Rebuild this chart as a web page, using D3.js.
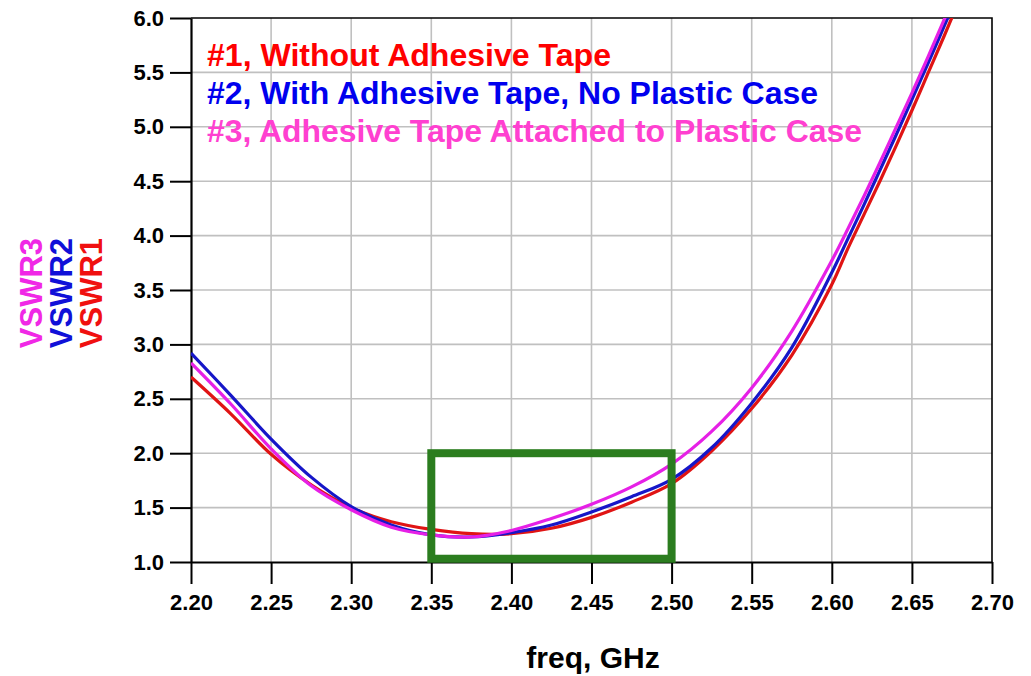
<!DOCTYPE html>
<html>
<head>
<meta charset="utf-8">
<script src="https://cdn.jsdelivr.net/npm/d3@7"></script>
<style>
  body { margin: 0; background: #fff; }
  text { font-family: "Liberation Sans", Arial, sans-serif; font-weight: bold; }
</style>
</head>
<body>
<div id="chart"></div>
<script>
const freqs = [2.200, 2.225, 2.250, 2.275, 2.300, 2.325, 2.350, 2.375, 2.400, 2.425, 2.450, 2.475,
               2.500, 2.525, 2.550, 2.575, 2.600, 2.610, 2.620, 2.630, 2.640, 2.650, 2.660, 2.670, 2.680];
const vswr1 = [2.70, 2.36, 1.99, 1.71, 1.50, 1.37, 1.30, 1.26, 1.26, 1.31, 1.41, 1.55,
               1.72, 2.02, 2.41, 2.90, 3.55, 3.88, 4.19, 4.50, 4.82, 5.15, 5.49, 5.83, 6.18];
const vswr2 = [2.92, 2.53, 2.13, 1.78, 1.51, 1.34, 1.25, 1.23, 1.27, 1.34, 1.46, 1.60,
               1.76, 2.05, 2.46, 2.97, 3.66, 3.97, 4.28, 4.60, 4.92, 5.25, 5.58, 5.92, 6.26];
const vswr3 = [2.83, 2.45, 2.04, 1.70, 1.48, 1.32, 1.25, 1.23, 1.29, 1.40, 1.53, 1.69,
               1.90, 2.20, 2.60, 3.12, 3.77, 4.06, 4.36, 4.67, 4.99, 5.31, 5.64, 5.98, 6.32];
const xTicks = [2.20, 2.25, 2.30, 2.35, 2.40, 2.45, 2.50, 2.55, 2.60, 2.65, 2.70];
const yTicks = [1.0, 1.5, 2.0, 2.5, 3.0, 3.5, 4.0, 4.5, 5.0, 5.5, 6.0];
const legendLabels = ["#1, Without Adhesive Tape", "#2, With Adhesive Tape, No Plastic Case", "#3, Adhesive Tape Attached to Plastic Case"];
const yLabels = ["VSWR3", "VSWR2", "VSWR1"];
const bandBox = [2.35, 2.50, 1.03, 2.0]; // highlighted band: f0, f1, v0, v1

const width = 1031, height = 676;
const pLeft = 191, pRight = 992, pTop = 18, pBottom = 562;

const svg = d3.select("#chart").append("svg")
  .attr("width", width)
  .attr("height", height);

const x = d3.scaleLinear().domain([2.2, 2.7]).range([pLeft, pRight]);
const y = d3.scaleLinear().domain([1, 6]).range([pBottom, pTop]);

// grid
svg.append("g").selectAll("line").data(xTicks.slice(1, -1)).enter().append("line")
  .attr("x1", d => x(d)).attr("x2", d => x(d))
  .attr("y1", pTop).attr("y2", pBottom)
  .attr("stroke", "#c0c0c0").attr("stroke-width", 1.6);
svg.append("g").selectAll("line").data(yTicks.slice(1, -1)).enter().append("line")
  .attr("x1", pLeft).attr("x2", pRight)
  .attr("y1", d => y(d)).attr("y2", d => y(d))
  .attr("stroke", "#c0c0c0").attr("stroke-width", 1.6);

// frame top / right
svg.append("path")
  .attr("d", `M${pLeft},${pTop}H${pRight}V${pBottom}`)
  .attr("fill", "none").attr("stroke", "#000").attr("stroke-width", 1.6);

// legend text (sits behind curves, over grid)
const legendColors = ["#ff0000", "#0000ee", "#ff40d0"];
const legendWidths = [404, 611, 655];
legendLabels.forEach((t, i) => {
  svg.append("text")
    .attr("x", 207).attr("y", 66 + i * 38)
    .attr("font-size", 31)
    .attr("fill", legendColors[i])
    .attr("textLength", legendWidths[i])
    .attr("lengthAdjust", "spacingAndGlyphs")
    .text(t);
});

// axes
const xAxis = d3.axisBottom(x).tickValues(xTicks).tickFormat(d3.format(".2f"))
  .tickSizeInner(22).tickSizeOuter(0).tickPadding(10);
const yAxis = d3.axisLeft(y).tickValues(yTicks).tickFormat(d3.format(".1f"))
  .tickSizeInner(21).tickSizeOuter(0).tickPadding(6);

const gx = svg.append("g")
  .attr("transform", "translate(0," + pBottom + ")")
  .call(xAxis);
const gy = svg.append("g")
  .attr("transform", "translate(" + pLeft + ",0)")
  .call(yAxis);

[gx, gy].forEach(g => {
  g.select(".domain").attr("stroke", "#000").attr("stroke-width", 2.2);
  g.selectAll(".tick line").attr("stroke", "#000").attr("stroke-width", 2);
  g.selectAll(".tick text").attr("fill", "#000").attr("font-size", 22)
    .attr("font-family", "'Liberation Sans', Arial, sans-serif").attr("font-weight", "bold");
});

// curves
svg.append("clipPath").attr("id", "plotClip")
  .append("rect").attr("x", pLeft).attr("y", pTop).attr("width", pRight - pLeft).attr("height", pBottom - pTop);

const line = d3.line()
  .x((d, i) => x(freqs[i]))
  .y(d => y(d))
  .curve(d3.curveCatmullRom.alpha(0.5));

const series = [
  { values: vswr1, color: "#e01414" },
  { values: vswr2, color: "#1616c8" },
  { values: vswr3, color: "#e620e6" }
];

svg.append("g").attr("clip-path", "url(#plotClip)")
  .selectAll("path").data(series).enter().append("path")
  .attr("d", d => line(d.values))
  .attr("fill", "none")
  .attr("stroke", d => d.color)
  .attr("stroke-width", 3.2)
  .attr("stroke-linejoin", "round");

// highlighted band
svg.append("rect")
  .attr("x", x(bandBox[0])).attr("y", y(bandBox[3]))
  .attr("width", x(bandBox[1]) - x(bandBox[0]))
  .attr("height", y(bandBox[2]) - y(bandBox[3]))
  .attr("fill", "none")
  .attr("stroke", "#2b7d1f")
  .attr("stroke-width", 8);

// y labels (rotated)
const yLabelColors = ["#f028e6", "#1010d8", "#f01010"];
yLabels.forEach((t, i) => {
  svg.append("text")
    .attr("transform", `translate(${42 + i * 30},293) rotate(-90)`)
    .attr("text-anchor", "middle")
    .attr("font-size", 31)
    .attr("fill", yLabelColors[i])
    .text(t);
});

// x label
svg.append("text")
  .attr("x", 593).attr("y", 668)
  .attr("text-anchor", "middle")
  .attr("font-size", 30)
  .attr("fill", "#000")
  .text("freq, GHz");
</script>
</body>
</html>
